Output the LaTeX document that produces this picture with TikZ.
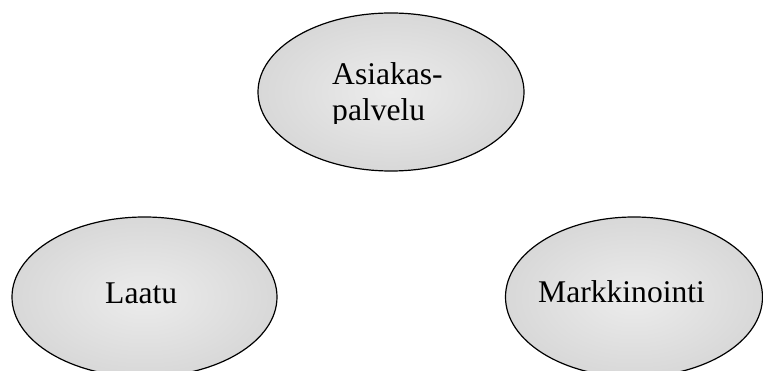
\documentclass[tikz,border=0pt]{standalone}
\usepackage{fontspec}
\setmainfont{Liberation Serif}
\usetikzlibrary{shapes.geometric}
\definecolor{ovalin}{HTML}{ECECEC}
\definecolor{ovalout}{HTML}{C4C4C4}
\pgfdeclareradialshading{ovalfill}{\pgfpoint{0bp}{0bp}}{color(0bp)=(ovalin); color(50bp)=(ovalout); color(100bp)=(ovalout)}
\tikzset{
  oval/.style={draw, ellipse, line width=1.2pt, shading=ovalfill,
    minimum width=265pt, minimum height=160pt, inner sep=0pt},
  ovaltext/.style={font=\fontsize{31.6}{36}\selectfont, inner sep=0pt, anchor=base west},
}

\begin{document}
\begin{tikzpicture}[x=1pt, y=-1pt]
    \fill[white] (0,0) rectangle (763,371);
    \useasboundingbox (0,0) rectangle (763,371);
    % the three ovals
    \node[oval, minimum width=266pt, minimum height=158pt] (palvelu) at (391,92) {};
    \node[oval]                                        (laatu)   at (144.5,297) {};
    \node[oval, minimum width=257pt]                   (markk)   at (634,297) {};
    % texts
    \node[ovaltext] (asiakastxt) at (332,85) {Asiakas-};
    \begin{scope}
      \clip (320,90) rectangle (470,124);
      \node[ovaltext] (palvelutxt) at (332,121) {palvelu};
    \end{scope}
    \node[ovaltext] (laatutxt) at (105,304) {Laatu};
    \node[ovaltext] (markktxt) at (538,303) {Markkinointi};
\end{tikzpicture}
\end{document}
